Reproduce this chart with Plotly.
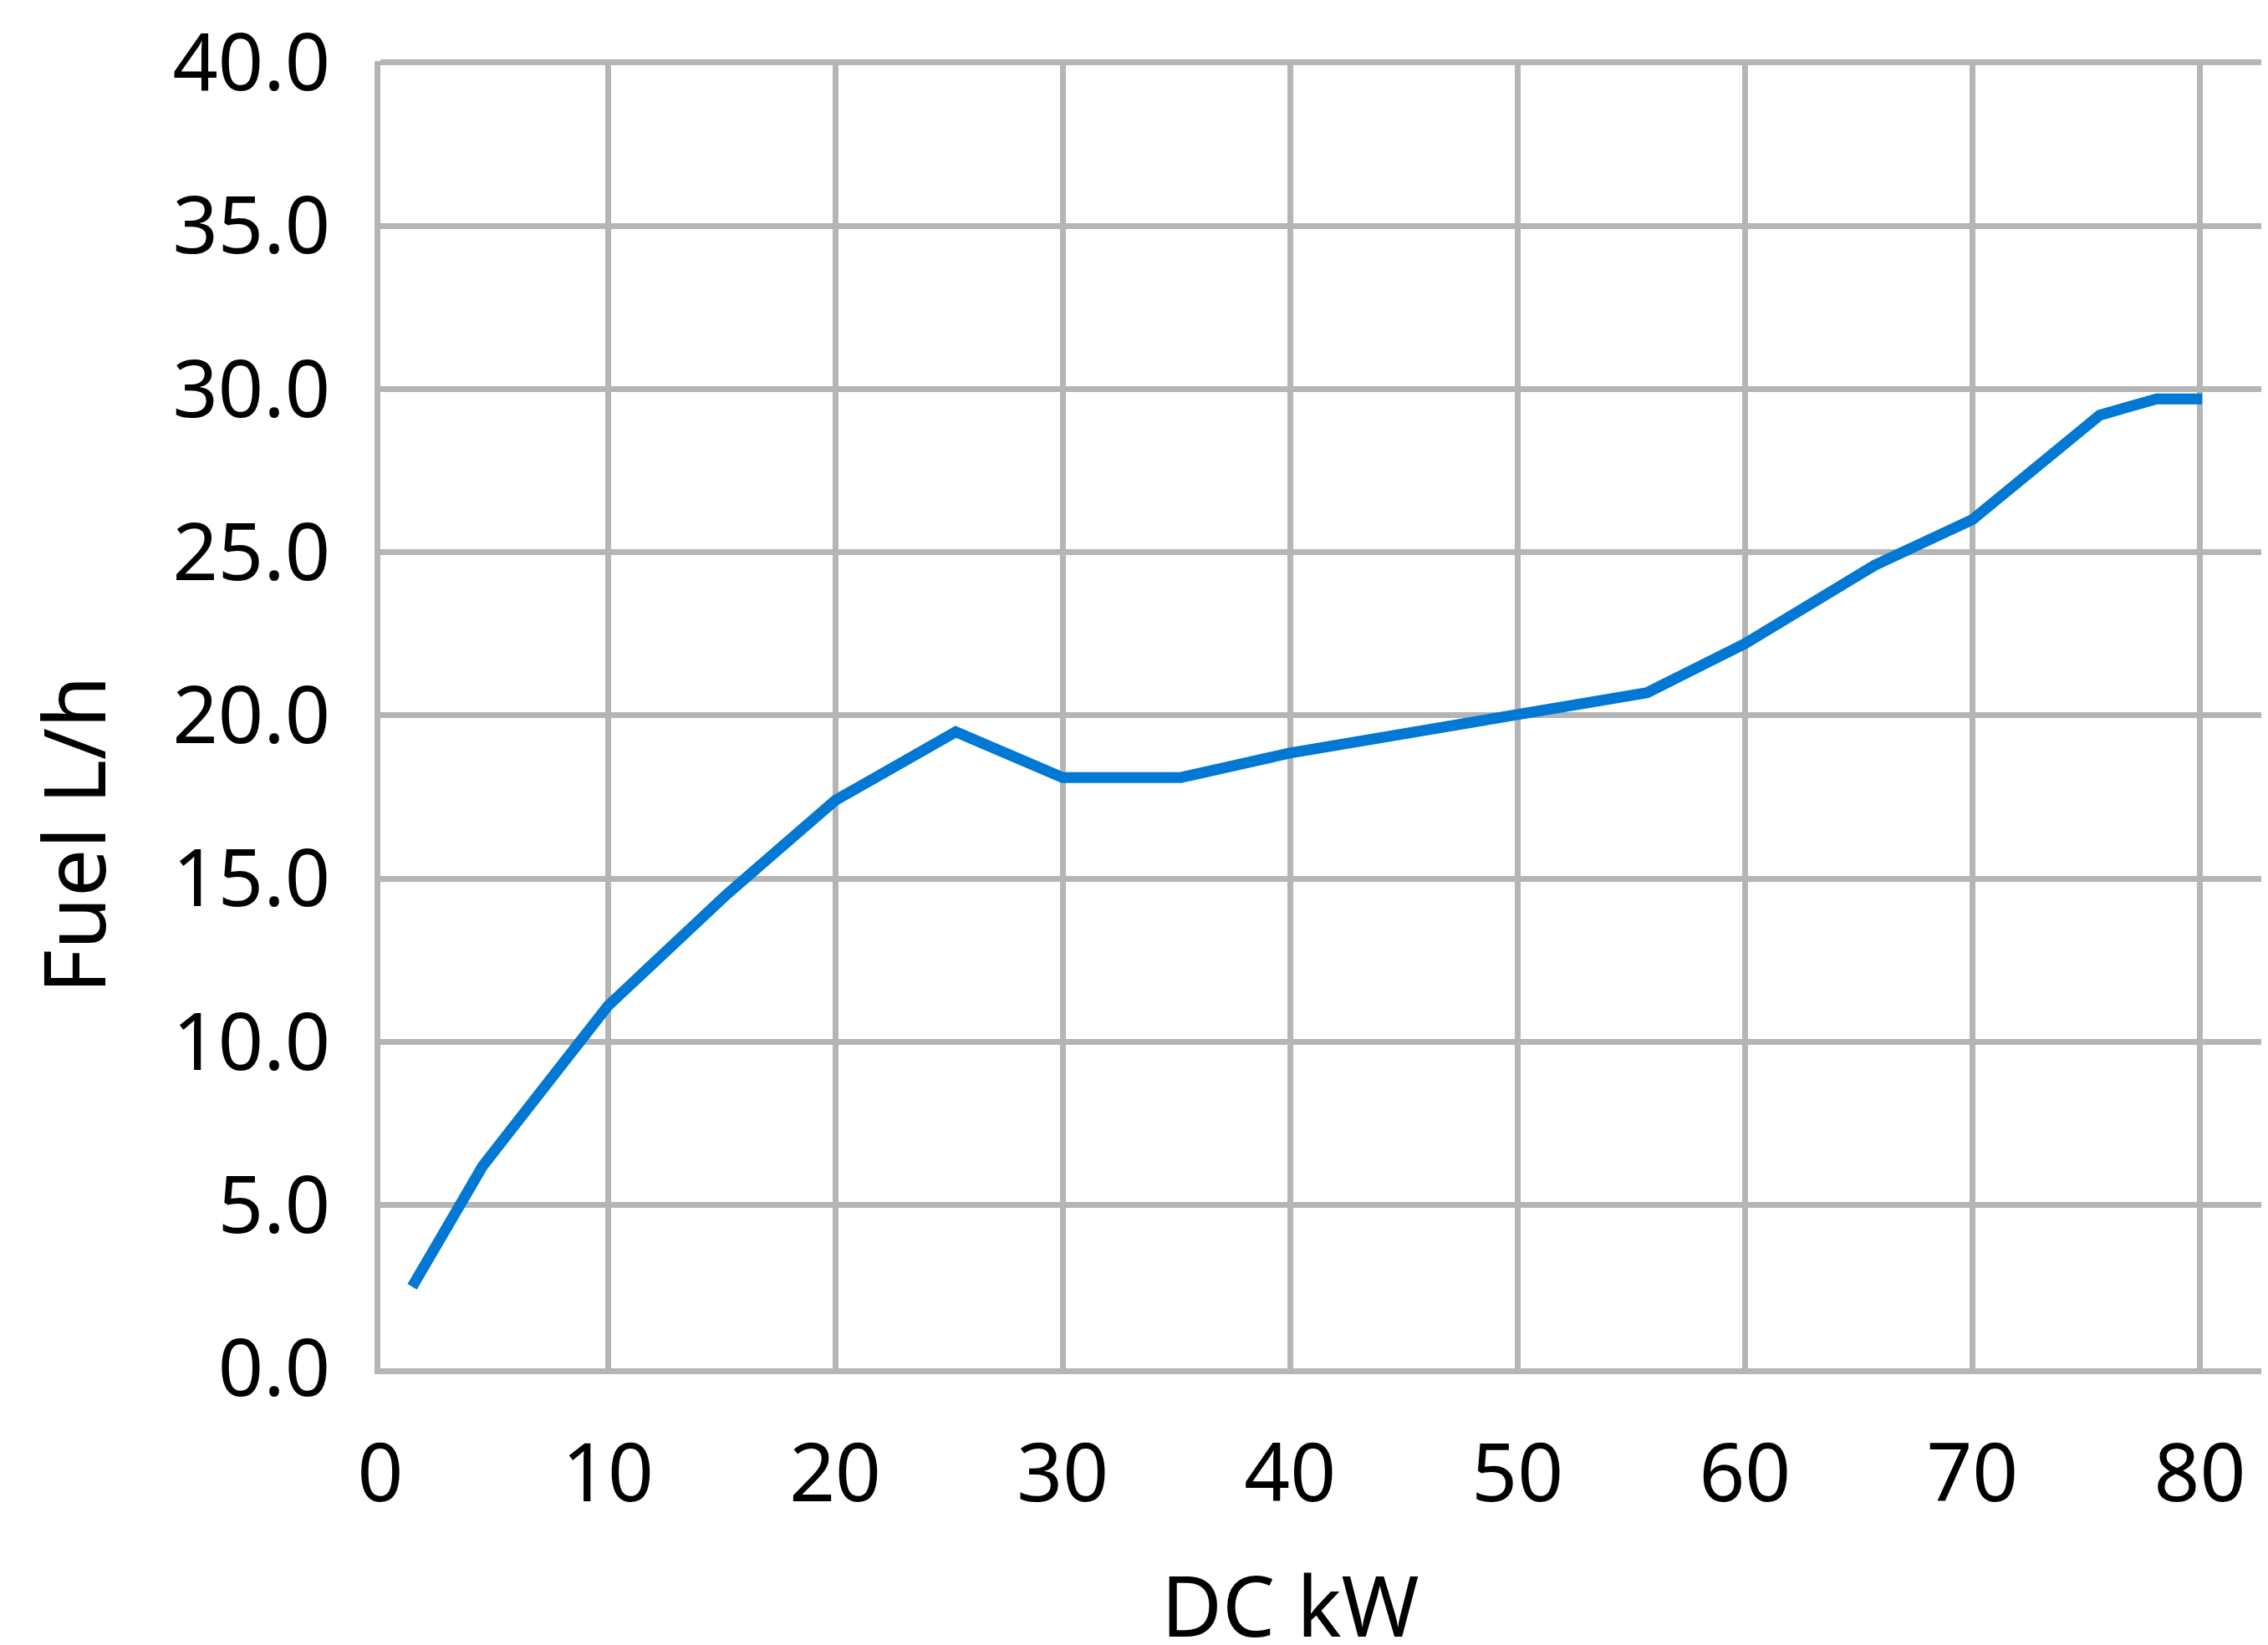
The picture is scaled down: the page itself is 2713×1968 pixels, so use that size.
import plotly.graph_objects as go

dc_kw = [1.4, 4.5, 10, 15.2, 20, 25.3, 30, 35.2, 40, 45.6, 50, 55.7, 60, 65.7, 70, 75.6, 78.1, 80.1]
fuel_lh = [2.5, 6.2, 11.1, 14.5, 17.4, 19.5, 18.1, 18.1, 18.85, 19.5, 20.0, 20.7, 22.2, 24.6, 26.0, 29.2, 29.7, 29.7]

x_title = "DC kW"
y_title = "Fuel L/h"

GRID = "#b5b5b5"
FONT = "Noto Sans"

fig = go.Figure()
fig.add_trace(go.Scatter(
    x=dc_kw, y=fuel_lh, mode="lines",
    line=dict(color="#0078d4", width=13),
    showlegend=False,
))

fig.update_layout(
    width=2705, height=1960,
    margin=dict(l=447, r=0, t=65, b=331, autoexpand=False),
    paper_bgcolor="white", plot_bgcolor="white",
    font=dict(family=FONT, color="black"),
)
fig.update_xaxes(
    range=[0, 83], dtick=10, tick0=0,
    showgrid=True, gridcolor=GRID, gridwidth=7,
    showline=True, linecolor=GRID, linewidth=7,
    zeroline=False, ticks="", ticklabelstandoff=37,
    tickfont=dict(size=96, family=FONT),
    ticklabeloverflow="allow",
    automargin=False,
)
fig.update_yaxes(
    range=[0, 40.05], dtick=5, tick0=0, tickformat=".1f",
    showgrid=True, gridcolor=GRID, gridwidth=7,
    showline=True, linecolor=GRID, linewidth=7,
    zeroline=False, ticks="", ticklabelstandoff=34,
    tickfont=dict(size=95, family=FONT),
    ticklabeloverflow="allow",
    automargin=False,
)
fig.add_annotation(
    text=x_title, x=40, xref="x", y=-0.18, yref="paper",
    xanchor="center", yanchor="middle", showarrow=False,
    font=dict(size=100, family=FONT, color="black"),
)
fig.add_annotation(
    text=y_title, x=-0.163, xref="paper", y=0.4086, yref="paper",
    xanchor="center", yanchor="middle", showarrow=False, textangle=-90,
    font=dict(size=102, family=FONT, color="black"),
)

fig.write_html("out.html")
